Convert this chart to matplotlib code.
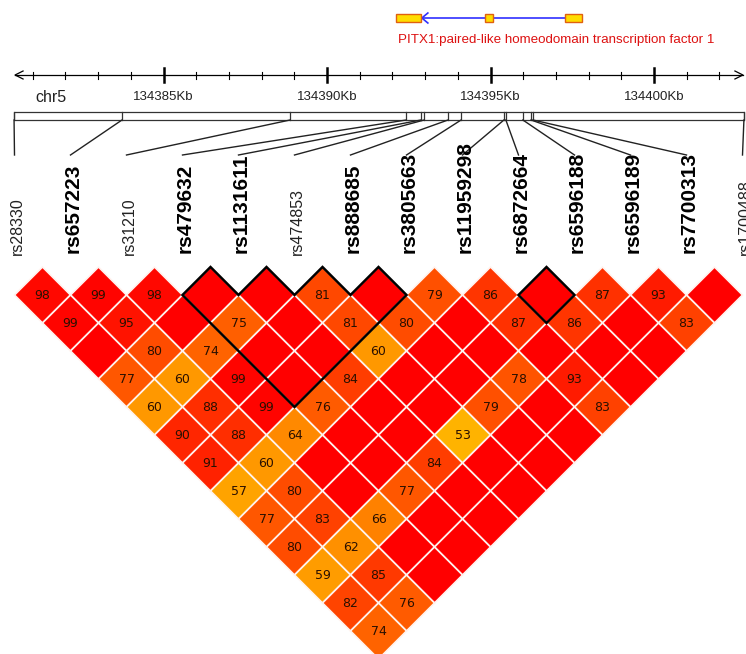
import numpy as np
import matplotlib
matplotlib.use("Agg")
import matplotlib.pyplot as plt
from matplotlib.patches import Polygon, Rectangle

# SNP names, whether drawn bold, and physical position (kb on chr5)
snps = ["rs28330", "rs657223", "rs31210", "rs479632", "rs1131611", "rs474853",
        "rs888685", "rs3805663", "rs11959298", "rs6872664", "rs6596188",
        "rs6596189", "rs7700313", "rs1700488"]
bold = [False, True, False, True, True, False, True, True, True, True, True,
        True, True, False]
pos_kb = [134380.43, 134383.73, 134388.87, 134392.42, 134392.87, 134392.97,
          134393.70, 134394.10, 134395.41, 134395.47, 134395.99, 134396.24,
          134396.30, 134402.75]

# D' (x100) by distance between SNPs; 100 = full red, no number shown
dprime = [
    [98, 99, 98, 100, 100, 81, 100, 79, 86, 100, 87, 93, 100],
    [99, 95, 100, 75, 100, 81, 80, 100, 87, 86, 100, 83],
    [100, 80, 74, 100, 100, 60, 100, 100, 100, 100, 100],
    [77, 60, 99, 100, 84, 100, 100, 78, 93, 100],
    [60, 88, 99, 76, 100, 100, 79, 100, 83],
    [90, 88, 64, 100, 100, 53, 100, 100],
    [91, 60, 100, 100, 84, 100, 100],
    [57, 80, 100, 77, 100, 100],
    [77, 83, 66, 100, 100],
    [80, 62, 100, 100],
    [59, 85, 100],
    [82, 76],
    [74],
]

# haplotype blocks (first snp, last snp)
blocks = [(3, 7), (9, 10)]

ruler_ticks = list(range(134381, 134403))
ruler_labels = [134385, 134390, 134395, 134400]

# PITX1 gene exons (kb)
exons = [(134392.11, 134392.87), (134394.83, 134395.07), (134397.28, 134397.80)]
gene_span = (134392.87, 134397.28)
gene_text = "PITX1:paired-like homeodomain transcription factor 1"


def kb2x(kb):
    return 163.5 + (kb - 134385) * 32.7


def cell_color(v):
    if v >= 100:
        return (1.0, 0.0, 0.0)
    g = min(255, (100 - v) * 3.8) / 255.0
    return (1.0, g, 0.0)


fig = plt.figure(figsize=(7.46, 6.54), dpi=100)
ax = fig.add_axes([0, 0, 1, 1])
ax.set_xlim(0, 746)
ax.set_ylim(654, 0)
ax.axis("off")

x0 = 14.5
step = 56
half = 28
ytop = 295

# LD diamonds
for k, row in enumerate(dprime):
    for i, v in enumerate(row):
        j = i + k + 1
        cx = x0 + half * (i + j)
        cy = ytop + half * k
        pts = [(cx - half, cy), (cx, cy - half), (cx + half, cy), (cx, cy + half)]
        ax.add_patch(Polygon(pts, closed=True, facecolor=cell_color(v),
                             edgecolor="#fff4f0", lw=1.2))
        if v < 100:
            ax.text(cx, cy + 0.5, str(v), ha="center", va="center",
                    fontsize=9, color="#2a1000", family="DejaVu Sans")

# block outlines
for a, b in blocks:
    pts = []
    for i in range(a, b):
        cx = x0 + half * (2 * i + 1)
        pts.append((cx - half, ytop))
        pts.append((cx, ytop - half))
    pts.append((x0 + half * (2 * (b - 1) + 1) + half, ytop))
    bx = x0 + half * (a + b)
    by = ytop + half * (b - a - 1) + half
    pts.append((bx, by))
    ax.add_patch(Polygon(pts, closed=True, fill=False, edgecolor="black",
                         lw=1.8, joinstyle="miter"))

# ruler
rl, rr, ry = kb2x(pos_kb[0]) + 1, kb2x(pos_kb[-1]) - 1, 75
ax.plot([rl, rr], [ry, ry], color="black", lw=0.9)
ax.plot([rl + 8, rl, rl + 8], [ry - 4, ry, ry + 4], color="black", lw=0.9)
ax.plot([rr - 8, rr, rr - 8], [ry - 4, ry, ry + 4], color="black", lw=0.9)
for t in ruler_ticks:
    tx = kb2x(t)
    if t % 5 == 0:
        ax.plot([tx, tx], [ry - 7, ry + 7], color="black", lw=1.8)
    else:
        ax.plot([tx, tx], [ry - 3.5, ry + 3.5], color="black", lw=0.8)
for t in ruler_labels:
    ax.text(kb2x(t), 97, "%dKb" % t, ha="center", va="center", fontsize=9.5,
            family="Liberation Sans", color="#222222")
ax.text(51, 97, "chr5", ha="center", va="center", fontsize=11.5,
        family="Liberation Sans", color="#222222")

# SNP position box
bl, br = kb2x(pos_kb[0]), kb2x(pos_kb[-1])
ax.add_patch(Rectangle((bl, 112), br - bl, 8, fill=False, edgecolor="#333333",
                       lw=0.9))
for i, p in enumerate(pos_kb):
    px = kb2x(p)
    lx = x0 + step * i
    ax.plot([px, px], [112, 120], color="#333333", lw=0.9)
    ax.plot([px, lx], [120, 155], color="#222222", lw=1.0)
    if bold[i]:
        ax.text(lx + 3, 253, snps[i], rotation=90, ha="center", va="bottom",
                fontsize=15, fontweight="bold", family="Liberation Sans")
    else:
        ax.text(lx + 3, 255, snps[i], rotation=90, ha="center", va="bottom",
                fontsize=11.5, family="Liberation Sans", color="#222222")

# gene
gy = 18
ax.plot([kb2x(gene_span[0]), kb2x(gene_span[1])], [gy, gy], color="#3030ff",
        lw=1.2)
ax.plot([kb2x(gene_span[0]) + 7, kb2x(gene_span[0]) + 1, kb2x(gene_span[0]) + 7],
        [gy - 5, gy, gy + 5], color="#3030ff", lw=1.2)
for s, e in exons:
    ax.add_patch(Rectangle((kb2x(s), gy - 4), kb2x(e) - kb2x(s), 8,
                           facecolor="#ffdd00", edgecolor="#e06010", lw=1.0,
                           zorder=3))
ax.text(398, 40, gene_text, ha="left", va="center", fontsize=9.6,
        family="Liberation Sans", color="#dd1111")

fig.savefig("out.png", dpi=100)
